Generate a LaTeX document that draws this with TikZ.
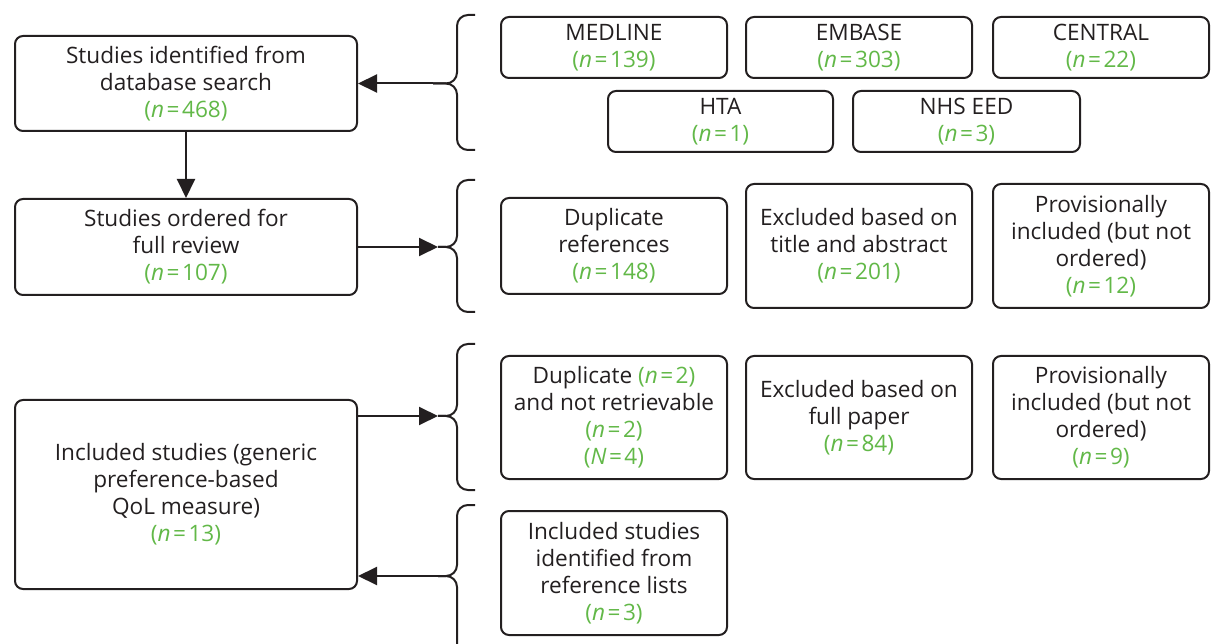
\documentclass[tikz,border=0pt]{standalone}
\usepackage{fontspec}
\setmainfont{Open Sans}
\usetikzlibrary{arrows.meta}
\definecolor{linec}{RGB}{35,31,32}
\definecolor{nval}{RGB}{98,184,72}
\newcommand{\cnt}[2][n]{{\color{nval}(\textit{#1}\kern2.5pt=\kern2.5pt#2)}}
\tikzset{
  box/.style={draw=linec, line width=2pt, rounded corners=8pt, align=center,
    inner sep=0pt, text=linec, font=\fontsize{22.6}{27}\selectfont},
  brace/.style={draw=linec, line width=2pt, rounded corners=11pt},
  arr/.style={draw=linec, line width=2pt, -{Triangle[length=19pt,width=18pt]}},
}
\begin{document}
\begin{tikzpicture}[x=1pt,y=-1pt]
\useasboundingbox (0,0) rectangle (1211,644);

% left column
\node[box, minimum width=342pt, minimum height=95pt] (found) at (186,83.5)
  {Studies identified from\\database search\\\cnt{468}};
\node[box, minimum width=342pt, minimum height=96pt] (ordered) at (186,247)
  {Studies ordered for\\full review\\\cnt{107}};
\node[box, minimum width=342pt, minimum height=189pt] (incl) at (186,494.5)
  {Included studies (generic\\preference-based\\QoL measure)\\\cnt{13}};

% databases
\node[box, minimum width=226pt, minimum height=61pt] (medline) at (614,47.5) {MEDLINE\\\cnt{139}};
\node[box, minimum width=226pt, minimum height=61pt] (embase) at (859,47.5) {EMBASE\\\cnt{303}};
\node[box, minimum width=216pt, minimum height=61pt] (central) at (1101,47.5) {CENTRAL\\\cnt{22}};
\node[box, minimum width=225pt, minimum height=61pt] (hta) at (720.5,121.5) {HTA\\\cnt{1}};
\node[box, minimum width=227pt, minimum height=61pt] (nhseed) at (966.5,121.5) {NHS EED\\\cnt{3}};

% screening of titles and abstracts
\node[box, minimum width=226pt, minimum height=96pt] (dup1) at (614,246) {Duplicate\\references\\\cnt{148}};
\node[box, minimum width=226pt, minimum height=124pt] (exta) at (859,246) {Excluded based on\\title and abstract\\\cnt{201}};
\node[box, minimum width=216pt, minimum height=124pt] (prov1) at (1101,246) {Provisionally\\included (but not\\ordered)\\\cnt{12}};

% screening of full papers
\node[box, minimum width=226pt, minimum height=123pt] (dup2) at (614,417.5)
  {Duplicate \cnt{2}\\and not retrievable\\\cnt{2}\\\cnt[N]{4}};
\node[box, minimum width=226pt, minimum height=123pt] (exfp) at (859,417.5) {Excluded based on\\full paper\\\cnt{84}};
\node[box, minimum width=216pt, minimum height=123pt] (prov2) at (1101,417.5) {Provisionally\\included (but not\\ordered)\\\cnt{9}};

% reference lists
\node[box, minimum width=226pt, minimum height=124pt] (refs) at (614,573)
  {Included studies\\identified from\\reference lists\\\cnt{3}};

% brace tips and spine
\coordinate (t1) at (433,83.5);
\coordinate (t2) at (438,247);
\coordinate (t3) at (438,416);
\coordinate (t4) at (438,576);
\coordinate (spine) at (457,0);

% braces
\foreach \tip/\top/\bot in {t1/15/150, t2/180/312, t3/344/490} {
  \draw[brace] (475,\top) -- (457,\top) -- (spine |- \tip) -- (\tip);
  \draw[brace] (475,\bot) -- (457,\bot) -- (spine |- \tip) -- (\tip);
}
\draw[brace] (475,505) -- (457,505) -- (spine |- t4) -- (t4);
\draw[brace] (457,646) -- (spine |- t4) -- (t4);

% connectors
\draw[arr] (found) -- (ordered);
\draw[arr] (t1) -- (found.east |- t1);
\draw[arr] (ordered.east |- t2) -- (t2);
\draw[arr] (incl.east |- t3) -- (t3);
\draw[arr] (t4) -- (incl.east |- t4);
\end{tikzpicture}
\end{document}
